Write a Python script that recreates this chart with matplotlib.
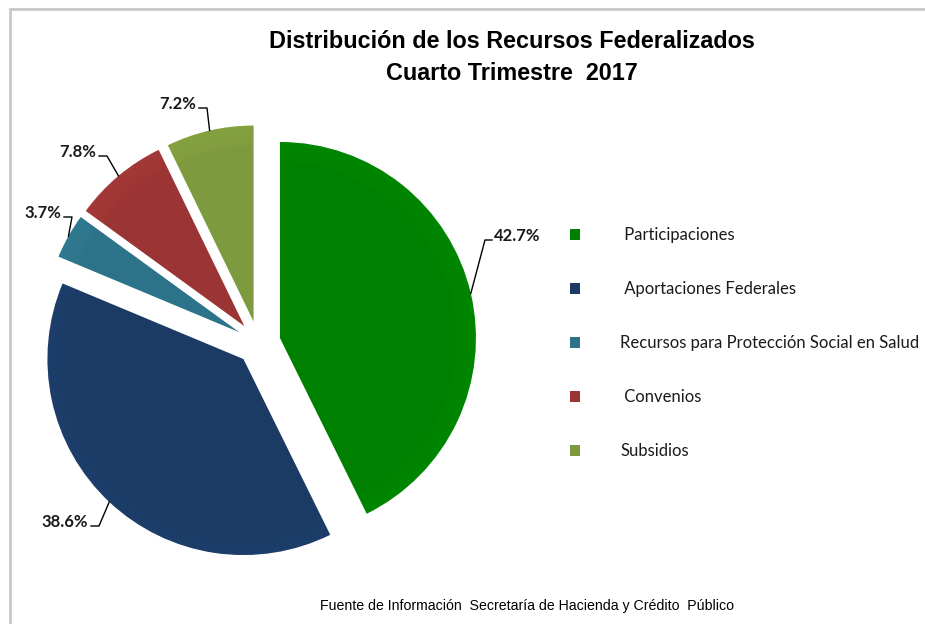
import numpy as np
import matplotlib
matplotlib.use("Agg")
import matplotlib.pyplot as plt
from matplotlib.patches import Wedge, Rectangle
from matplotlib.lines import Line2D

# ---------------- data ----------------
categories = [" Participaciones", " Aportaciones Federales",
              "Recursos para Protección Social en Salud", " Convenios", "Subsidios"]
shares = [42.7, 38.6, 3.7, 7.8, 7.2]
pct_labels = ["42.7%", "38.6%", "3.7%", "7.8%", "7.2%"]
title_lines = ["Distribución de los Recursos Federalizados", "Cuarto Trimestre  2017"]
source = "Fuente de Información  Secretaría de Hacienda y Crédito  Público"

body_colors = ["#008000", "#1B3A64", "#2C7389", "#9B3434", "#7E9A3E"]
light_colors = ["#00B000", "#2D5A94", "#46A6C2", "#DC5452", "#AFD152"]

W, H = 925, 624
fig = plt.figure(figsize=(W / 100, H / 100), dpi=100)
ax = fig.add_axes([0, 0, 1, 1])

narrow = ["Liberation Sans Narrow", "Liberation Sans", "DejaVu Sans"]
calib = ["Lato", "DejaVu Sans"]

cx, cy, R = 258.5, H - 343, 196
wedges, _ = ax.pie(shares, colors=body_colors, startangle=90, counterclock=False,
                   radius=R, center=(cx, cy), explode=[22] * len(shares),
                   wedgeprops=dict(linewidth=0), frame=True)
ax.set_xlim(0, W)
ax.set_ylim(0, H)
ax.set_aspect("equal")
ax.axis("off")

# border
ax.add_patch(Rectangle((10, -5), W + 10, H - 9 + 5, fill=False,
                       edgecolor="#C8C8C8", lw=2))

# bevel-like lighter rim
for w, lc in zip(wedges, light_colors):
    (wx, wy), r, t1, t2 = w.center, w.r, w.theta1, w.theta2
    n = 10
    for i in range(n):
        rr = r - i * 2.0
        a = 0.06 + 0.07 * (n - i) / n
        ax.add_patch(Wedge((wx, wy), rr, t1, t2, width=2.0, facecolor=lc,
                           edgecolor="none", alpha=a))

# labels with leader lines
label_pos = [(494, 236, "left"), (88, 522, "right"), (61, 213, "right"),
             (96, 152, "right"), (196, 104, "right")]
for w, lab, (tx, ty, side) in zip(wedges, pct_labels, label_pos):
    (wx, wy), r, t1, t2 = w.center, w.r, w.theta1, w.theta2
    mid = np.deg2rad((t1 + t2) / 2)
    px, py = wx + r * np.cos(mid), wy + r * np.sin(mid)
    ty_d = H - ty
    if side == "left":
        x_end, x_knee = tx - 2, tx - 9
    else:
        x_end, x_knee = tx + 3, tx + 11
    ly = ty_d - 4
    ax.add_line(Line2D([px, x_knee, x_end], [py, ly, ly], color="black", lw=1))
    ax.text(tx, ty_d, lab, ha=side, va="center", fontsize=12, fontweight="bold",
            family=calib, color="#1A1A1A")

# title
ax.text(512, H - 41, title_lines[0], ha="center", va="center", fontsize=16.8,
        fontweight="bold", family=narrow)
ax.text(512, H - 73, title_lines[1], ha="center", va="center", fontsize=16.8,
        fontweight="bold", family=narrow)

# source
ax.text(527, H - 606, source, ha="center", va="center", fontsize=10.2, family=narrow)

# legend
leg = ax.legend(wedges, categories, loc="upper left",
                bbox_to_anchor=(562 / W, 1 - 219 / H), frameon=False,
                prop=dict(family=calib, size=12.0), handlelength=0.6,
                handleheight=0.6, handletextpad=2.4, labelspacing=2.28,
                borderpad=0)
for t in leg.get_texts():
    t.set_color("#1A1A1A")

fig.savefig("out.png", dpi=100, facecolor="white")
